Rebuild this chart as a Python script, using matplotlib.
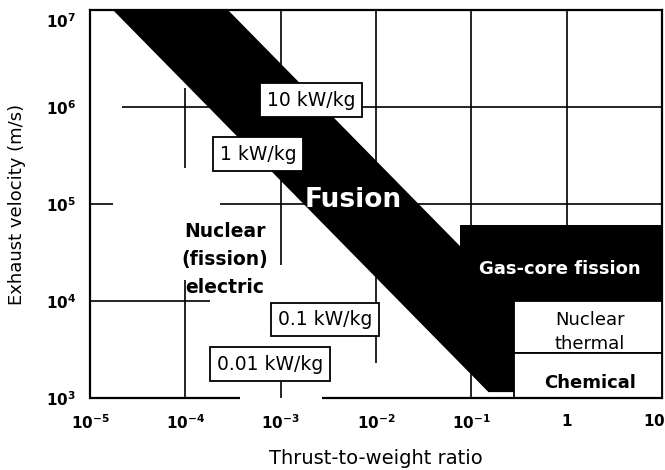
import numpy as np
import matplotlib.pyplot as plt
import matplotlib.transforms as mtransforms
from matplotlib.patches import Polygon, Rectangle

plt.rcParams['font.family'] = ['DejaVu Sans']

# axis ticks
x_ticks = [1e-5, 1e-4, 1e-3, 1e-2, 1e-1, 1, 10]
x_tick_labels = [r"$\mathbf{10^{-5}}$", r"$\mathbf{10^{-4}}$", r"$\mathbf{10^{-3}}$",
                 r"$\mathbf{10^{-2}}$", r"$\mathbf{10^{-1}}$", r"$\mathbf{1}$", r"$\mathbf{10}$"]
y_ticks = [1e3, 1e4, 1e5, 1e6, 1e7]
y_tick_labels = [r"$\mathbf{10^{3}}$", r"$\mathbf{10^{4}}$", r"$\mathbf{10^{5}}$",
                 r"$\mathbf{10^{6}}$", r"$\mathbf{10^{7}}$"]

# fusion band: edges are lines of constant (T/W) * v
band_power_lo = 174
band_power_hi = 2800
band_v = [1.15e3, 1e7]

# propulsion regions (T/W range, exhaust velocity range)
gas_core_tw = [0.076, 10]
gas_core_v = [1e4, 6.1e4]
nuclear_thermal_tw = [0.28, 10]
nuclear_thermal_v = [2.9e3, 1e4]
chemical_tw = [0.28, 10]
chemical_v = [1e3, 2.9e3]

# the hand drawn grid has gaps, keep its pieces as (position, start, end)
grid_v = [(1e-4, 1.58e6, 2.35e5), (1e-4, 1.64e4, 1e3),
          (1e-3, 1e7, 2.35e4), (1e-3, 1.46e3, 1e3),
          (1e-2, 1e7, 2.3e3), (1e-1, 1e7, 1e3), (1, 1e7, 1e3)]
grid_h = [(1e6, 2.17e-5, 10), (1e5, 1e-5, 1.74e-5), (1e5, 2.31e-4, 10),
          (1e4, 1e-5, 1.82e-4)]
bottom_axis = [(1e-5, 3.74e-4), (2.7e-3, 10)]

fig = plt.figure(figsize=(6.65, 4.7), dpi=100)
ax = fig.add_axes([90 / 665, 1 - 398 / 470, 572 / 665, 388 / 470])
ax.set_xscale('log')
ax.set_yscale('log')
ax.set_xlim(1e-5, 10)
ax.set_ylim(1e3, 1e7)

for x, y0, y1 in grid_v:
    ax.plot([x, x], [y0, y1], color='black', lw=1.2, zorder=1, solid_capstyle='butt')
for y, x0, x1 in grid_h:
    ax.plot([x0, x1], [y, y], color='black', lw=1.2, zorder=1, solid_capstyle='butt')
for x0, x1 in bottom_axis:
    ax.plot([x0, x1], [1e3, 1e3], color='black', lw=1.6, zorder=5,
            solid_capstyle='butt', clip_on=False)

# fusion band
vb, vt = band_v
band = Polygon([(band_power_lo / vt, vt), (band_power_hi / vt, vt),
                (band_power_hi / vb, vb), (band_power_lo / vb, vb)],
               closed=True, facecolor='black', edgecolor='none', zorder=2)
ax.add_patch(band)

ax.add_patch(Rectangle((gas_core_tw[0], gas_core_v[0]), gas_core_tw[1] - gas_core_tw[0],
                       gas_core_v[1] - gas_core_v[0], facecolor='black',
                       edgecolor='none', zorder=2))
ax.add_patch(Rectangle((nuclear_thermal_tw[0], nuclear_thermal_v[0]),
                       nuclear_thermal_tw[1] - nuclear_thermal_tw[0],
                       nuclear_thermal_v[1] - nuclear_thermal_v[0], facecolor='white',
                       edgecolor='black', lw=1.3, zorder=3))
ax.text(1.76, 4.8e3, "Nuclear\nthermal", ha='center', va='center', fontsize=13,
        linespacing=1.45, zorder=3.2)
ax.add_patch(Rectangle((chemical_tw[0], chemical_v[0]), chemical_tw[1] - chemical_tw[0],
                       chemical_v[1] - chemical_v[0], facecolor='white',
                       edgecolor='black', lw=1.3, zorder=3.4))
ax.text(1.76, 1.43e3, "Chemical", ha='center', va='center', fontsize=13,
        fontweight='bold', zorder=3.6)

ax.text(0.85, 2.14e4, "Gas-core fission", ha='center', va='center', fontsize=13,
        fontweight='bold', color='white', zorder=4)
ax.text(5.74e-3, 1.1e5, "Fusion", ha='center', va='center', fontsize=19,
        fontweight='bold', color='white', zorder=4)
ax.text(2.6e-4, 2.65e4, "Nuclear\n(fission)\nelectric", ha='center', va='center',
        fontsize=13.5, fontweight='bold', linespacing=1.6, zorder=4)

box = dict(boxstyle='square,pad=0.38', facecolor='white', edgecolor='black', lw=1.3)
ax.text(2.08e-3, 1.18e6, "10 kW/kg", ha='center', va='center', fontsize=13.5, bbox=box, zorder=4)
ax.text(5.78e-4, 3.27e5, "1 kW/kg", ha='center', va='center', fontsize=13.5, bbox=box, zorder=4)
ax.text(2.92e-3, 6.5e3, "0.1 kW/kg", ha='center', va='center', fontsize=13.5, bbox=box, zorder=4)
ax.text(7.73e-4, 2.24e3, "0.01 kW/kg", ha='center', va='center', fontsize=13.5, bbox=box, zorder=4)

ax.set_xticks(x_ticks, x_tick_labels)
ax.set_yticks(y_ticks, y_tick_labels)
ax.minorticks_off()
ax.tick_params(length=0, labelsize=11)
ax.tick_params(axis='x', pad=11)
ax.tick_params(axis='y', pad=10)

for side in ['top', 'left', 'right']:
    ax.spines[side].set_linewidth(1.6)
ax.spines['bottom'].set_visible(False)

# top y label sits a bit under its line, last x label stays inside the figure
top_lab = ax.get_yticklabels()[-1]
top_lab.set_transform(top_lab.get_transform() +
                      mtransforms.ScaledTranslation(0, -10 / 100, fig.dpi_scale_trans))
last_lab = ax.get_xticklabels()[-1]
last_lab.set_horizontalalignment('right')
last_lab.set_transform(last_lab.get_transform() +
                       mtransforms.ScaledTranslation(3 / 100, 0, fig.dpi_scale_trans))

ax.set_xlabel("Thrust-to-weight ratio", fontsize=14, labelpad=12)
ax.set_ylabel("Exhaust velocity (m/s)", fontsize=13, labelpad=14)

fig.savefig("out.png", dpi=100)
